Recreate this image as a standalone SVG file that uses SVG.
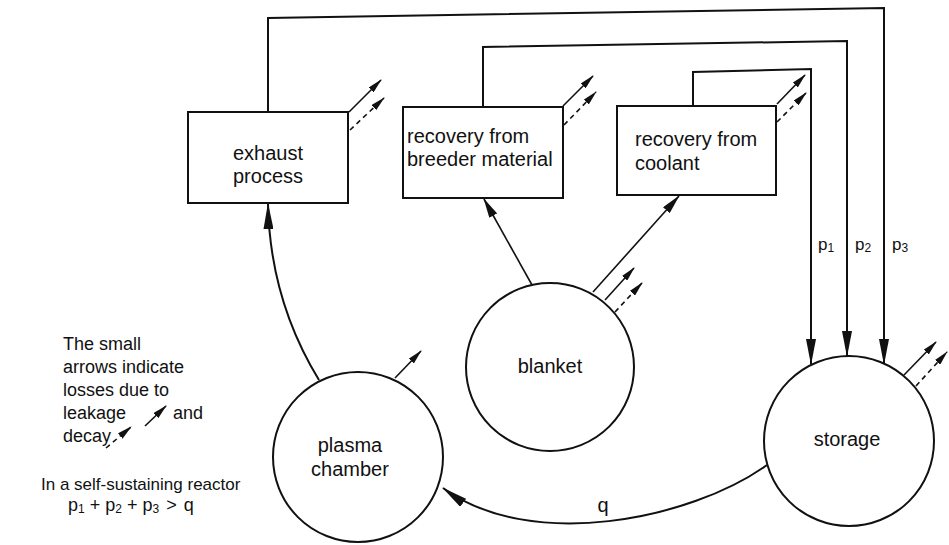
<svg xmlns="http://www.w3.org/2000/svg" width="949" height="545" viewBox="0 0 949 545">
<style>
  text { font-family: "Liberation Sans", Arial, sans-serif; font-size: 20px; fill: #111; }
  .sm { font-size: 17px; }
  .lg { font-size: 18px; }
  .lg2 { font-size: 17px; }
  .box { fill: #fff; stroke: #111; stroke-width: 2; }
  .node { fill: #fff; stroke: #111; stroke-width: 2; }
  .ln { fill: none; stroke: #111; stroke-width: 2; }
  .thin { fill: none; stroke: #111; stroke-width: 1.6; }
  .loss { fill: none; stroke: #111; stroke-width: 1.6; marker-end: url(#small); }
  .decay { fill: none; stroke: #111; stroke-width: 1.6; stroke-dasharray: 5 4; marker-end: url(#small); }
  .mid { text-anchor: middle; }
</style>
<defs>
  <marker id="big" markerUnits="userSpaceOnUse" viewBox="0 0 26 10" refX="25" refY="5" markerWidth="26" markerHeight="10" orient="auto">
    <path d="M0,0 L26,5 L0,10 z" fill="#111"/>
  </marker>
  <marker id="med" markerUnits="userSpaceOnUse" viewBox="0 0 20 9" refX="19" refY="4.5" markerWidth="20" markerHeight="9" orient="auto">
    <path d="M0,0 L20,4.5 L0,9 z" fill="#111"/>
  </marker>
  <marker id="small" markerUnits="userSpaceOnUse" viewBox="0 0 15 7" refX="14" refY="3.5" markerWidth="15" markerHeight="7" orient="auto">
    <path d="M0,0 L15,3.5 L0,7 z" fill="#111"/>
  </marker>
</defs>

<g id="connectors">
  <!-- exhaust to storage (p3) -->
  <polyline class="ln" points="268,112 268,18 884,8 884,364" marker-end="url(#big)"/>
  <!-- breeder to storage (p2) -->
  <polyline class="ln" points="483,107 483,47 847,41 847,356" marker-end="url(#big)"/>
  <!-- coolant to storage (p1) -->
  <polyline class="ln" points="693,106 693,72 811,69 811,364" marker-end="url(#big)"/>
  <!-- plasma to exhaust -->
  <path class="ln" d="M319,380 Q270,300 268,204" marker-end="url(#big)"/>
  <!-- blanket to breeder -->
  <line class="thin" x1="532" y1="285" x2="484" y2="199" marker-end="url(#med)"/>
  <!-- blanket to coolant -->
  <line class="thin" x1="593" y1="292" x2="679" y2="196" marker-end="url(#med)"/>
  <!-- storage to plasma (q) -->
  <path class="ln" d="M767,465 C690,520 530,552 443,488" marker-end="url(#big)"/>
  <text x="603" y="512" class="mid">q</text>
  <text x="818" y="250" class="sm">p<tspan font-size="12" dy="2">1</tspan></text>
  <text x="855" y="250" class="sm">p<tspan font-size="12" dy="2">2</tspan></text>
  <text x="892" y="250" class="sm">p<tspan font-size="12" dy="2">3</tspan></text>
</g>

<g id="exhaust">
  <rect class="box" x="188" y="112" width="160" height="91"/>
  <text x="268" y="160" class="mid">exhaust</text>
  <text x="268" y="183" class="mid">process</text>
  <line class="loss" x1="349" y1="112" x2="381" y2="80"/>
  <line class="decay" x1="350" y1="130" x2="384" y2="98"/>
</g>

<g id="breeder">
  <rect class="box" x="403" y="107" width="160" height="91"/>
  <text x="407" y="143">recovery from</text>
  <text x="407" y="166">breeder material</text>
  <line class="loss" x1="563" y1="106" x2="593" y2="76"/>
  <line class="decay" x1="564" y1="125" x2="596" y2="92"/>
</g>

<g id="coolant">
  <rect class="box" x="617" y="106" width="159" height="89"/>
  <text x="635" y="146">recovery from</text>
  <text x="635" y="170">coolant</text>
  <line class="loss" x1="777" y1="104" x2="805" y2="75"/>
  <line class="decay" x1="777" y1="122" x2="806" y2="93"/>
</g>

<g id="blanket">
  <circle class="node" cx="550" cy="367" r="84"/>
  <text x="550" y="373" class="mid">blanket</text>
  <line class="loss" x1="605" y1="300" x2="634" y2="268"/>
  <line class="decay" x1="615" y1="312" x2="642" y2="283"/>
</g>

<g id="plasma">
  <circle class="node" cx="358" cy="457" r="85"/>
  <text x="350" y="452" class="mid">plasma</text>
  <text x="350" y="476" class="mid">chamber</text>
  <line class="loss" x1="395" y1="378" x2="421" y2="351"/>
</g>

<g id="storage">
  <circle class="node" cx="849" cy="441" r="85"/>
  <text x="847" y="446" class="mid">storage</text>
  <line class="loss" x1="904" y1="375" x2="936" y2="342"/>
  <line class="decay" x1="916" y1="386" x2="947" y2="352"/>
</g>

<g id="legend">
  <text x="63" y="350" class="lg">The small</text>
  <text x="63" y="373" class="lg">arrows indicate</text>
  <text x="63" y="396" class="lg">losses due to</text>
  <text x="63" y="419" class="lg">leakage</text>
  <line class="loss" x1="145" y1="426" x2="166" y2="406"/>
  <text x="173" y="419" class="lg">and</text>
  <text x="63" y="442" class="lg">decay</text>
  <line class="decay" x1="106" y1="448" x2="131" y2="427"/>
  <text x="41" y="490" class="lg2">In a self-sustaining reactor</text>
  <text x="68" y="511" class="lg">p<tspan font-size="12" dy="2">1</tspan><tspan dy="-2" dx="5">+</tspan><tspan dx="5">p</tspan><tspan font-size="12" dy="2">2</tspan><tspan dy="-2" dx="5">+</tspan><tspan dx="5">p</tspan><tspan font-size="12" dy="2">3</tspan><tspan dy="-2" dx="7">&gt;</tspan><tspan dx="7">q</tspan></text>
</g>
</svg>
